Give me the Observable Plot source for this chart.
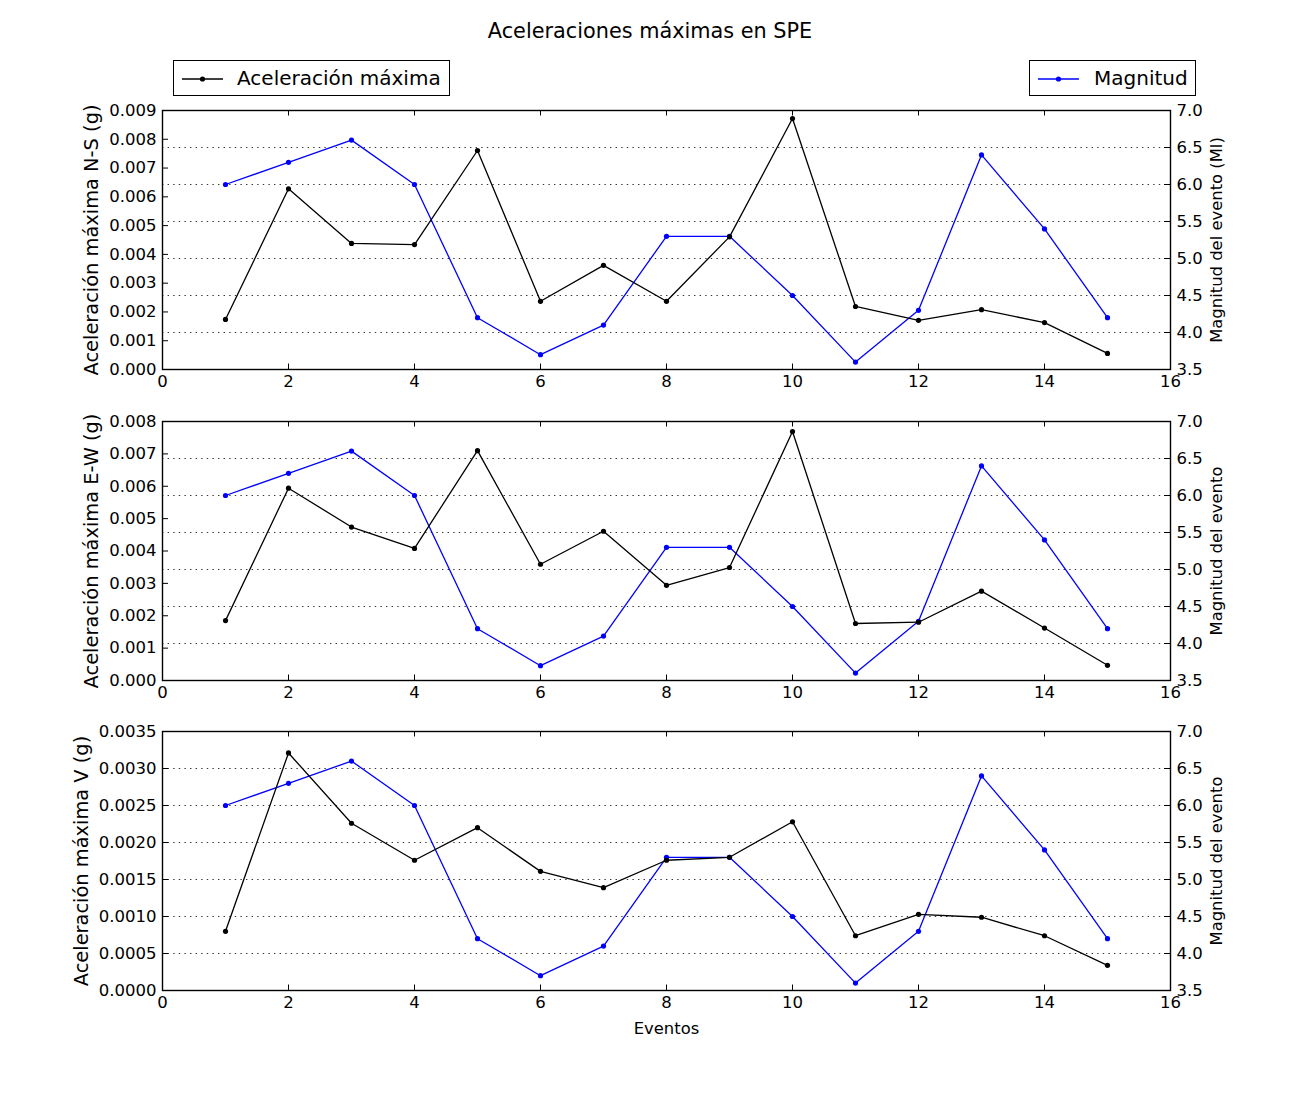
<!DOCTYPE html>
<html>
<head>
<meta charset="utf-8">
<script src="https://cdn.jsdelivr.net/npm/d3@7"></script>
<script src="https://cdn.jsdelivr.net/npm/@observablehq/plot@0.6"></script>
<style>
  html, body { margin: 0; padding: 0; background: #fff; }
  body { font-family: "DejaVu Sans", sans-serif; color: #000; }
  #fig { position: relative; width: 1300px; height: 1100px; background: #fff; overflow: hidden; }
  #title { position: absolute; left: 0; top: 18px; width: 1300px; text-align: center; font-size: 20.8px; line-height: 26px; }
  .leg { position: absolute; box-sizing: border-box; border: 1.2px solid #000; background: #fff; height: 36px; top: 60px; }
  .leg svg { position: absolute; left: 7px; top: 12px; }
  .leg span { position: absolute; top: 0; line-height: 34px; font-size: 20px; white-space: nowrap; }
  .panel { position: absolute; left: 0; }
</style>
</head>
<body>
<div id="fig">
  <div id="title">Aceleraciones máximas en SPE</div>
  <div class="leg" style="left:173px;width:277px;">
    <svg width="44" height="12"><line x1="1" x2="42" y1="6" y2="6" stroke="#000" stroke-width="1.3"/><circle cx="21.5" cy="6" r="2.6" fill="#000"/></svg>
    <span style="left:63px;">Aceleración máxima</span>
  </div>
  <div class="leg" style="left:1029px;width:167px;">
    <svg width="44" height="12"><line x1="1" x2="42" y1="6" y2="6" stroke="#0000ff" stroke-width="1.3"/><circle cx="21.5" cy="6" r="2.6" fill="#0000ff"/></svg>
    <span style="left:64px;">Magnitud</span>
  </div>
  <div id="p1" class="panel" style="top:100px;"></div>
  <div id="p2" class="panel" style="top:411px;"></div>
  <div id="p3" class="panel" style="top:721px;"></div>
</div>
<script>
// ---- Data ----
const eventos = [1, 2, 3, 4, 5, 6, 7, 8, 9, 10, 11, 12, 13, 14, 15];
const magnitud = [6.0, 6.3, 6.6, 6.0, 4.2, 3.7, 4.1, 5.3, 5.3, 4.5, 3.6, 4.3, 6.4, 5.4, 4.2];
const acelNS = [0.00174, 0.00628, 0.00438, 0.00434, 0.00761, 0.00237, 0.00362, 0.00237, 0.00461, 0.00872, 0.00219, 0.00171, 0.00208, 0.00163, 0.00056];
const acelEW = [0.00185, 0.00594, 0.00474, 0.00408, 0.00710, 0.00359, 0.00461, 0.00294, 0.00349, 0.00769, 0.00176, 0.00180, 0.00276, 0.00162, 0.00047];
const acelV  = [0.00080, 0.00321, 0.00226, 0.00176, 0.00220, 0.00161, 0.00139, 0.00176, 0.00180, 0.00228, 0.00074, 0.00103, 0.00099, 0.00074, 0.00034];

const xTicks = [0, 2, 4, 6, 8, 10, 12, 14, 16];
const ticksNS = [0, 0.001, 0.002, 0.003, 0.004, 0.005, 0.006, 0.007, 0.008, 0.009];
const ticksEW = [0, 0.001, 0.002, 0.003, 0.004, 0.005, 0.006, 0.007, 0.008];
const ticksV  = [0, 0.0005, 0.0010, 0.0015, 0.0020, 0.0025, 0.0030, 0.0035];
const magTicks = [3.5, 4.0, 4.5, 5.0, 5.5, 6.0, 6.5, 7.0];
const magDomain = [3.5, 7.0];

const labelsLeft = ["Aceleración máxima N-S (g)", "Aceleración máxima E-W (g)", "Aceleración máxima V (g)"];
const labelsRight = ["Magnitud del evento (Ml)", "Magnitud del evento", "Magnitud del evento"];
const xLabel = "Eventos";

function panel({acc, ticks, digits, yMax, left, right, showX, labelDx}) {
  const W = 1300, mL = 162, mR = 130, mT = 10, inner = 259;
  const mB = showX ? 62 : 41;
  const H = mT + inner + mB;
  const innerW = W - mL - mR;
  const toAcc = d3.scaleLinear(magDomain, [0, yMax]);
  const accRows = eventos.map((e, i) => ({e, v: acc[i]}));
  const magRows = eventos.map((e, i) => ({e, m: magnitud[i]}));
  const marks = [
    Plot.ruleY(magTicks, {y: d => toAcc(d), stroke: "#000", strokeWidth: 0.8, strokeDasharray: "1.4,4.2"}),
    Plot.line(magRows, {x: "e", y: d => toAcc(d.m), stroke: "#0000ff", strokeWidth: 1.3}),
    Plot.dot(magRows, {x: "e", y: d => toAcc(d.m), fill: "#0000ff", r: 2.6}),
    Plot.line(accRows, {x: "e", y: "v", stroke: "#000", strokeWidth: 1.3}),
    Plot.dot(accRows, {x: "e", y: "v", fill: "#000", r: 2.6}),
    Plot.tickX(xTicks, {x: d => d, insetTop: inner - 5.5, stroke: "#000", strokeWidth: 1}),
    Plot.tickX(xTicks, {x: d => d, insetBottom: inner - 5.5, stroke: "#000", strokeWidth: 1}),
    Plot.tickY(ticks, {y: d => d, insetRight: innerW - 6, stroke: "#000", strokeWidth: 1}),
    Plot.tickY(magTicks, {y: d => toAcc(d), insetLeft: innerW - 6, stroke: "#000", strokeWidth: 1}),
    Plot.axisX(xTicks, {tickSize: 0, tickPadding: 6, tickFormat: d => String(d), label: null, fontSize: 16.5}),
    Plot.axisY(ticks, {anchor: "left", tickSize: 0, tickPadding: 6, tickFormat: d => d.toFixed(digits), label: null, fontSize: 16.5}),
    Plot.axisY(magTicks, {anchor: "right", y: d => toAcc(d), tickSize: 0, tickPadding: 6, tickFormat: d => d.toFixed(1), label: null, fontSize: 16.5}),
    Plot.frame({stroke: "#000", strokeWidth: 1.4}),
    Plot.text([left], {text: d => d, frameAnchor: "left", textAnchor: "middle", lineAnchor: "middle", dx: labelDx, rotate: -90, fontSize: 19.4, fill: "#000"}),
    Plot.text([right], {text: d => d, frameAnchor: "right", textAnchor: "middle", lineAnchor: "middle", dx: 46.5, rotate: -90, fontSize: 16.4, fill: "#000"})
  ];
  if (showX) {
    marks.push(Plot.text([xLabel], {text: d => d, frameAnchor: "bottom", textAnchor: "middle", lineAnchor: "middle", dy: 38, fontSize: 16.4, fill: "#000"}));
  }
  return Plot.plot({
    width: W, height: H,
    marginLeft: mL, marginRight: mR, marginTop: mT, marginBottom: mB,
    style: {fontFamily: "DejaVu Sans", fontSize: "16.5px", color: "#000", background: "transparent", overflow: "visible"},
    x: {domain: [0, 16]},
    y: {domain: [0, yMax]},
    marks
  });
}

document.getElementById("p1").append(panel({acc: acelNS, ticks: ticksNS, digits: 3, yMax: 0.009, left: labelsLeft[0], right: labelsRight[0], showX: false, labelDx: -70.5}));
document.getElementById("p2").append(panel({acc: acelEW, ticks: ticksEW, digits: 3, yMax: 0.008, left: labelsLeft[1], right: labelsRight[1], showX: false, labelDx: -70.5}));
document.getElementById("p3").append(panel({acc: acelV, ticks: ticksV, digits: 4, yMax: 0.0035, left: labelsLeft[2], right: labelsRight[2], showX: true, labelDx: -81}));
</script>
</body>
</html>
